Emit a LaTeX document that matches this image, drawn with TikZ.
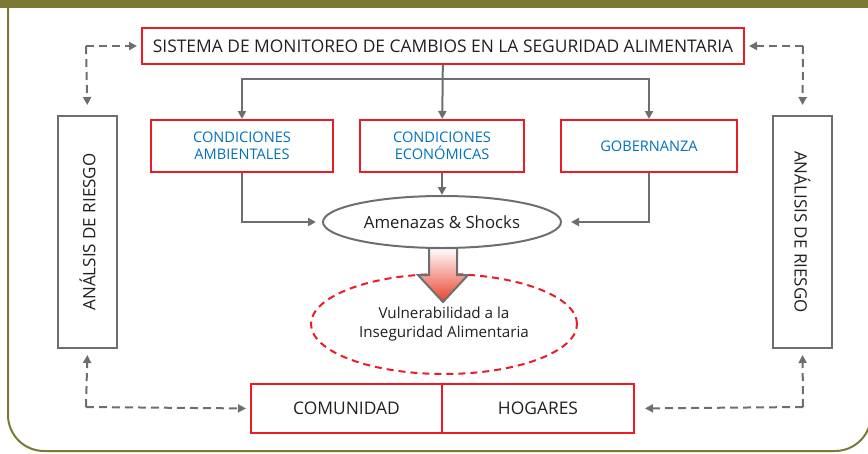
\documentclass[tikz,border=0pt]{standalone}
\usepackage{fontspec}
\setmainfont{Open Sans}
\usetikzlibrary{arrows.meta,shapes.geometric}
\definecolor{frameolive}{RGB}{123,122,53}
\definecolor{boxred}{RGB}{237,28,36}
\definecolor{linegray}{RGB}{109,110,113}
\definecolor{textblue}{RGB}{0,114,188}
\definecolor{textdark}{RGB}{35,31,32}
\definecolor{arrowred}{RGB}{232,65,42}
\begin{document}
\begin{tikzpicture}[x=1pt,y=-1pt,
    redbox/.style={draw=boxred, line width=2pt, inner sep=0pt, align=center, text=textdark, font=\fontsize{17.4}{20}\selectfont},
    condbox/.style={redbox, minimum height=52pt, text=textblue, font=\fontsize{14.6}{17.5}\selectfont},
    riskbox/.style={draw=linegray, line width=2pt, inner sep=0pt, minimum width=232pt, minimum height=59pt, text=textdark, font=\fontsize{17}{20}\selectfont},
    conn/.style={draw=linegray, line width=2pt, -{Triangle[length=8pt,width=8pt]}},
    dconn/.style={conn, dash pattern=on 8pt off 5pt}]
  \useasboundingbox (0,0) rectangle (868,453);
  \fill[frameolive] (0,0) rectangle (868,8);
  \draw[frameolive, line width=2pt, rounded corners=36pt] (8,8) -- (8,451) -- (871,451) -- (871,8);
  \node[redbox, minimum width=602pt, minimum height=36pt] (sistema) at (443,46) {SISTEMA DE MONITOREO DE CAMBIOS EN LA SEGURIDAD ALIMENTARIA};
  \node[condbox, minimum width=182pt] (amb) at (242,146) {CONDICIONES\\AMBIENTALES};
  \node[condbox, minimum width=164pt] (eco) at (442,146) {CONDICIONES\\ECONÓMICAS};
  \node[condbox, minimum width=176pt] (gob) at (649,146) {GOBERNANZA};
  \node[ellipse, draw=linegray, line width=2pt, minimum width=238pt, minimum height=52pt, text=textdark, font=\fontsize{16.8}{20}\selectfont] (amenazas) at (442,222) {Amenazas \& Shocks};
  \node[ellipse, draw=boxred, line width=2pt, dash pattern=on 7pt off 5pt, minimum width=266pt, minimum height=100pt, align=center, text=textdark, font=\fontsize{15.2}{19.5}\selectfont] (vuln) at (444,324) {Vulnerabilidad a la\\Inseguridad Alimentaria};
  \shade[top color=white, bottom color=arrowred, draw=linegray, line width=2pt] (429,248) -- (457,248) -- (457,275) -- (468,275) -- (443,302) -- (418,275) -- (429,275) -- cycle;
  \node[riskbox, rotate=90] (riskL) at (87.5,232) {ANÁLSIS DE RIESGO};
  \node[riskbox, rotate=-90] (riskR) at (802.5,232) {ANÁLISIS DE RIESGO};
  \node[redbox, minimum width=191pt, minimum height=49pt] (comunidad) at (346.5,408.5) {COMUNIDAD};
  \node[redbox, minimum width=192pt, minimum height=49pt] (hogares) at (538,408.5) {HOGARES};
  \coordinate (bus) at (443,79);
  \coordinate (tl) at (86,46);
  \coordinate (tr) at (803,46);
  \coordinate (bl) at (86,407);
  \coordinate (br) at (803,407);
  \draw[conn] (sistema) -- (eco);
  \draw[conn] (bus) -| (amb.north);
  \draw[conn] (bus) -| (gob.north);
  \draw[conn, shorten >=6pt] (amb.south) |- (amenazas.west);
  \draw[conn] (eco) -- (amenazas);
  \draw[conn, shorten >=9pt] (gob.south) |- (amenazas.east);
  \draw[dconn, shorten >=4pt] (tl) -- (sistema.west);
  \draw[dconn, shorten >=10pt] (tl) -- (riskL.east);
  \draw[dconn, shorten >=4pt] (tr) -- (sistema.east);
  \draw[dconn, shorten >=10pt] (tr) -- (riskR.west);
  \draw[dconn, shorten >=6pt] (bl) -- (riskL.west);
  \draw[dconn, shorten >=4pt] (bl) -- (comunidad.west);
  \draw[dconn, shorten >=6pt] (br) -- (riskR.east);
  \draw[dconn, shorten >=10pt] (br) -- (hogares.east);
\end{tikzpicture}
\end{document}
